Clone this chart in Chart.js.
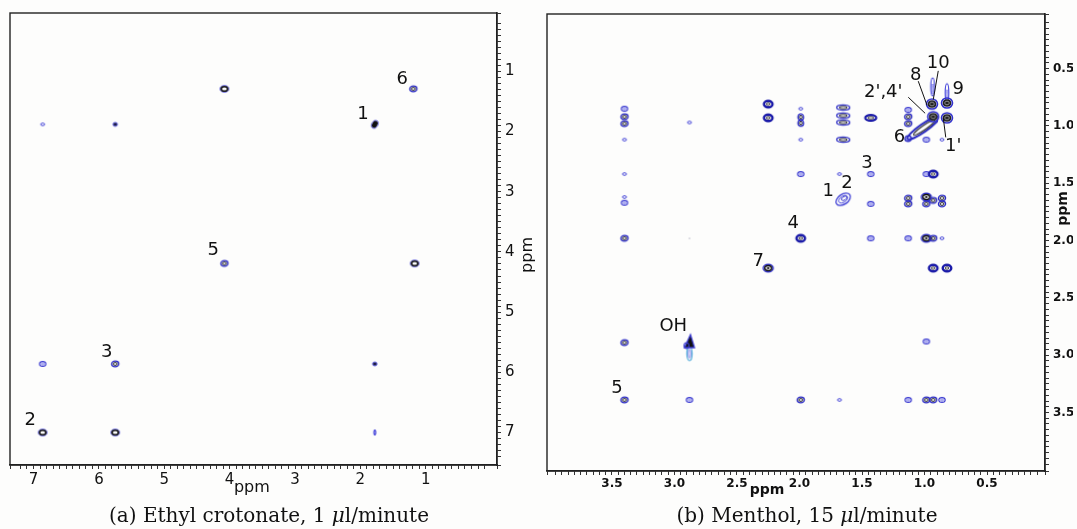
<!DOCTYPE html>
<html>
<head>
<meta charset="utf-8">
<script src="https://cdn.jsdelivr.net/npm/chart.js@4.4.1/dist/chart.umd.min.js"></script>
<style>
  body { margin: 0; background: #fdfdfc; width: 1077px; height: 529px; overflow: hidden; position: relative; }
  canvas { position: absolute; top: 0; }
  #c1 { left: 0; }
  #c2 { left: 540px; }
  .cap { position: absolute; top: 503px; font: 20px "DejaVu Serif"; color: #111; white-space: nowrap; transform: translateX(-50%); }
</style>
</head>
<body>
<canvas id="c1" width="540" height="529"></canvas>
<canvas id="c2" width="537" height="529"></canvas>
<div class="cap" style="left:269px">(a) Ethyl crotonate, 1 <i>μ</i>l/minute</div>
<div class="cap" style="left:807px">(b) Menthol, 15 <i>μ</i>l/minute</div>
<script>
// ---- data: (a) ethyl crotonate, peak positions in ppm
const crotonateX     = [4.08, 1.19, 1.78, 6.86, 5.75, 4.08, 1.17, 5.75, 6.86, 1.78, 6.86, 5.75, 1.78];
const crotonateY     = [1.29, 1.29, 1.88, 1.88, 1.88, 4.19, 4.19, 5.86, 5.86, 5.86, 7.00, 7.00, 7.00];
const crotonateLevel = ['ring', 'mid', 'blob', 'trace', 'dot', 'mid', 'ring', 'mid', 'weak', 'dot', 'ring', 'ring', 'tick'];
const crotonateLabelText = ['6', '1', '5', '3', '2'];
const crotonateLabelX    = [1.36, 1.96, 4.25, 5.88, 7.05];
const crotonateLabelY    = [1.13, 1.72, 3.98, 5.66, 6.80];
const crotonateTicks      = [1, 2, 3, 4, 5, 6, 7];
const crotonateTickLabels = ['1', '2', '3', '4', '5', '6', '7'];

// ---- data: (b) menthol
const mentholX = [
  3.40, 3.40, 3.40, 3.40, 3.40, 3.40, 3.40, 3.40, 3.40, 3.40,
  2.88, 2.88, 2.88, 2.88,
  2.25, 2.25, 2.25,
  1.99, 1.99, 1.99, 1.99, 1.99, 1.99,
  1.68, 1.68,
  1.65, 1.65, 1.65, 1.65, 1.65,
  1.43, 1.43, 1.43, 1.43,
  1.13, 1.13, 1.13, 1.13, 1.13, 1.13, 1.13,
  0.985, 0.985, 0.985, 0.985, 0.985, 0.985, 0.985,
  0.93, 0.93, 0.93, 0.93, 0.93,
  0.86, 0.86, 0.86, 0.86, 0.86,
  0.82,
  1.13, 0.935, 0.82,
  0.94, 0.93, 0.82, 0.82
];
const mentholY = [
  0.85, 0.92, 0.98, 1.12, 1.42, 1.62, 1.67, 1.98, 2.89, 3.39,
  0.97, 1.98, 2.89, 3.39,
  0.81, 0.93, 2.24,
  0.85, 0.95, 1.12, 1.42, 1.98, 3.39,
  1.42, 3.39,
  0.84, 0.91, 0.97, 1.12, 1.64,
  0.93, 1.42, 1.68, 1.98,
  0.86, 0.92, 0.98, 1.63, 1.68, 1.98, 3.39,
  1.12, 1.42, 1.62, 1.68, 1.98, 2.88, 3.39,
  1.42, 1.65, 1.98, 2.24, 3.39,
  1.12, 1.63, 1.68, 1.98, 3.39,
  2.24,
  1.11, 0.66, 0.71,
  0.81, 0.92, 0.80, 0.93
];
const mentholLevel = [
  'weak', 'mid', 'mid', 'trace', 'trace', 'trace', 'weak', 'mid', 'mid', 'mid',
  'trace', 'speck', 'oh', 'weak',
  'navy', 'navy', 'strong',
  'trace', 'tall', 'trace', 'weak', 'navy', 'mid',
  'trace', 'trace',
  'wide', 'wide', 'wide', 'wide', 'diag',
  'navywide', 'weak', 'weak', 'weak',
  'weak', 'mid', 'mid', 'mid', 'mid', 'weak', 'weak',
  'weak', 'weak', 'strong', 'mid', 'strong', 'weak', 'mid',
  'navy', 'mid', 'mid', 'navy', 'mid',
  'trace', 'mid', 'mid', 'trace', 'weak',
  'navy',
  'streak', 'spike', 'spike',
  'cluster', 'cluster', 'cluster', 'cluster'
];
const mentholLabelText = ['10', '8', '9', "2',4'", '6', "1'", '3', '2', '1', '4', '7', 'OH', '5'];
const mentholLabelX    = [0.89, 1.07, 0.73, 1.33, 1.20, 0.77, 1.46, 1.62, 1.77, 2.05, 2.33, 3.01, 3.46];
const mentholLabelY    = [0.45, 0.56, 0.68, 0.71, 1.10, 1.18, 1.33, 1.50, 1.57, 1.85, 2.18, 2.75, 3.29];
const mentholLeaderX1  = [1.05, 0.89, 1.13, 0.83];
const mentholLeaderY1  = [0.61, 0.52, 0.75, 1.10];
const mentholLeaderX2  = [0.98, 0.93, 0.995, 0.85];
const mentholLeaderY2  = [0.82, 0.77, 0.89, 0.93];
const mentholTicks      = [0.5, 1.0, 1.5, 2.0, 2.5, 3.0, 3.5];
const mentholTickLabels = ['0.5', '1.0', '1.5', '2.0', '2.5', '3.0', '3.5'];

// ---- contour-like marks, used as point styles
function ell(g, x, y, rx, ry, color, lw, rot) {
  g.beginPath();
  g.ellipse(x, y, rx, ry, rot || 0, 0, 2 * Math.PI);
  g.strokeStyle = color;
  g.lineWidth = lw;
  g.stroke();
}
function fillEll(g, x, y, rx, ry, color, rot) {
  g.beginPath();
  g.ellipse(x, y, rx, ry, rot || 0, 0, 2 * Math.PI);
  g.fillStyle = color;
  g.fill();
}
function shape(w, h, draw) {
  const c = document.createElement('canvas');
  c.width = w; c.height = h;
  const g = c.getContext('2d');
  g.translate(w / 2, h / 2);
  draw(g);
  return c;
}

const shapes = {
  speck: shape(6, 6, g => fillEll(g, 0, 0, 0.8, 0.6, '#9a9ab0')),
  trace: shape(10, 8, g => ell(g, 0, 0, 2, 1.3, '#4848d8', 1)),
  tick: shape(8, 10, g => ell(g, 0, 0, 0.9, 2.4, '#3a3ad8', 1.2)),
  dot: shape(10, 10, g => { fillEll(g, 0, 0, 2, 1.7, '#1a1a40'); ell(g, 0, 0, 2.3, 2, '#4444dd', 0.8); }),
  weak: shape(12, 10, g => { ell(g, 0, 0, 3.2, 2.4, '#3838d0', 1.1); ell(g, 0, 0, 1.5, 1, '#7070e4', 0.8); }),
  mid: shape(12, 10, g => { ell(g, 0, 0, 3.6, 2.8, '#2a2ac4', 1.3); ell(g, 0, 0, 2, 1.4, '#222', 1); }),
  ring: shape(14, 12, g => { ell(g, 0, 0, 4.2, 3.2, '#3b3bd8', 1); ell(g, 0, 0, 3.2, 2.3, '#111', 1.6); }),
  blob: shape(14, 14, g => { fillEll(g, 0, 0, 2.6, 3.8, '#111', 0.5); ell(g, 0, 0, 3.1, 4.3, '#4040d0', 0.8, 0.5); }),
  strong: shape(14, 12, g => { ell(g, 0, 0, 5, 3.8, '#3030cc', 1.4); ell(g, 0, 0, 3.4, 2.5, '#111', 1.4); fillEll(g, 0, 0, 1.4, 1, '#222'); }),
  navy: shape(14, 12, g => { ell(g, 0, 0, 4.3, 3.2, '#1a1aa8', 2.4); ell(g, 0, 0, 1.8, 1.2, '#444', 1); }),
  navywide: shape(16, 10, g => { ell(g, 0, 0, 5.5, 2.8, '#1a1aa8', 2.2); ell(g, 0, 0, 3, 1.2, '#444', 1); }),
  wide: shape(18, 10, g => { ell(g, 0, 0, 6.5, 2.6, '#2f2fc6', 1.4); ell(g, 0, 0, 4, 1.2, '#333', 1); }),
  tall: shape(10, 18, g => {
    ell(g, 0, -3, 2.8, 3.2, '#2a2ac4', 1.3); ell(g, 0, 3, 2.8, 3.2, '#2a2ac4', 1.3);
    ell(g, 0, -3, 1.3, 1.7, '#333', 1); ell(g, 0, 3, 1.3, 1.7, '#333', 1);
  }),
  diag: shape(24, 20, g => {
    ell(g, 0, 0, 8, 5, '#3c3cd4', 1.3, -0.6); ell(g, 0, 0, 5, 3, '#4a4adc', 1, -0.6);
    ell(g, 1, -1, 3, 1.8, '#2a2ac4', 1, -0.6);
  }),
  streak: shape(60, 50, g => {
    ell(g, 15, -10.5, 19, 4, '#2626c0', 2, -0.61);
    ell(g, 16, -11, 13, 2.2, '#333', 1.2, -0.61);
    ell(g, 0, 0, 3.2, 2.8, '#2626c0', 1.4);
  }),
  spike: shape(10, 26, g => { ell(g, 0, 0, 1.8, 9, '#4a4adc', 1.2); ell(g, 0, 2, 0.8, 5, '#7878e6', 0.8); }),
  cluster: shape(16, 16, g => {
    ell(g, 0, 0, 5.5, 5, '#3030cc', 1.6); fillEll(g, 0, 0, 4.3, 3.8, '#222');
    ell(g, 0, 0, 2.3, 1.8, '#888', 1);
  }),
  oh: shape(20, 40, g => {
    ell(g, 0, 11, 2.6, 7, '#4aa8d8', 1.2); ell(g, 0, 11, 1.2, 4.5, '#6060e0', 0.8);
    g.beginPath(); g.moveTo(1, -8); g.lineTo(-5, 5); g.lineTo(5, 5); g.closePath();
    g.fillStyle = '#111'; g.fill(); g.strokeStyle = '#3a3ad0'; g.lineWidth = 1.3; g.stroke();
    ell(g, -3, 3, 2.5, 3, '#3a3ad0', 1.2);
  })
};

// ---- annotations, frame and ppm titles
function notesPlugin(p) {
  return {
    id: 'notes',
    afterDatasetsDraw(chart) {
      const { ctx, chartArea: a, scales: { x, y } } = chart;
      ctx.save();
      ctx.strokeStyle = '#222';
      ctx.lineWidth = 1.4;
      ctx.strokeRect(a.left, a.top, a.right - a.left, a.bottom - a.top);

      ctx.lineWidth = 1;
      ctx.strokeStyle = '#111';
      (p.lx1 || []).forEach((v, i) => {
        ctx.beginPath();
        ctx.moveTo(x.getPixelForValue(v), y.getPixelForValue(p.ly1[i]));
        ctx.lineTo(x.getPixelForValue(p.lx2[i]), y.getPixelForValue(p.ly2[i]));
        ctx.stroke();
      });

      ctx.fillStyle = '#111';
      ctx.textAlign = 'center';
      ctx.textBaseline = 'middle';
      ctx.font = '18px "DejaVu Sans"';
      p.text.forEach((t, i) => ctx.fillText(t, x.getPixelForValue(p.tx[i]), y.getPixelForValue(p.ty[i])));

      ctx.font = p.titleFont;
      ctx.fillText('ppm', x.getPixelForValue(p.xTitleAt), a.bottom + p.xTitleGap);
      ctx.translate(a.right + p.yTitleGap, y.getPixelForValue(p.yTitleAt));
      ctx.rotate(-Math.PI / 2);
      ctx.fillText('ppm', 0, 0);
      ctx.restore();
    }
  };
}

function tickLabel(values, labels) {
  return v => {
    const i = values.findIndex(t => Math.abs(t - v) < 1e-6);
    return i >= 0 ? labels[i] : '';
  };
}

function makeChart(id, xs, ys, levels, o) {
  return new Chart(document.getElementById(id), {
    type: 'scatter',
    data: {
      datasets: [{
        data: xs.map((v, i) => ({ x: v, y: ys[i] })),
        pointStyle: c => shapes[levels[c.dataIndex]],
        pointRadius: 3
      }]
    },
    options: {
      responsive: false,
      animation: false,
      events: [],
      layout: { padding: o.padding },
      plugins: { legend: { display: false }, tooltip: { enabled: false } },
      scales: {
        x: {
          type: 'linear', min: o.xMin, max: o.xMax, reverse: true, position: 'bottom',
          afterFit: s => { s.height = 20; },
          grid: { drawOnChartArea: false, drawTicks: true, tickLength: 4, color: '#333' },
          border: { color: '#222', width: 1.4 },
          ticks: { stepSize: o.step, autoSkip: false, maxRotation: 0, padding: 2, color: '#111', font: o.tickFont,
                   callback: tickLabel(o.ticks, o.tickLabels) }
        },
        y: {
          type: 'linear', min: o.yMin, max: o.yMax, reverse: true, position: 'right',
          afterFit: s => { s.width = o.yWidth; },
          grid: { drawOnChartArea: false, drawTicks: true, tickLength: 4, color: '#333' },
          border: { color: '#222', width: 1.4 },
          ticks: { stepSize: o.step, autoSkip: false, padding: 4, color: '#111', font: o.tickFont,
                   callback: tickLabel(o.ticks, o.tickLabels) }
        }
      }
    },
    plugins: [notesPlugin(o.notes)]
  });
}

makeChart('c1', crotonateX, crotonateY, crotonateLevel, {
  xMin: -0.09, xMax: 7.36, yMin: 0.03, yMax: 7.54, step: 0.1,
  ticks: crotonateTicks, tickLabels: crotonateTickLabels,
  tickFont: { family: 'DejaVu Sans', size: 15 },
  padding: { left: 10, top: 13, right: 13, bottom: 44 }, yWidth: 30,
  notes: { text: crotonateLabelText, tx: crotonateLabelX, ty: crotonateLabelY,
           titleFont: '16px "DejaVu Sans"', xTitleAt: 3.66, xTitleGap: 23, yTitleAt: 4.05, yTitleGap: 31 }
});

makeChart('c2', mentholX, mentholY, mentholLevel, {
  xMin: 0.036, xMax: 4.02, yMin: 0.024, yMax: 4.01, step: 0.05,
  ticks: mentholTicks, tickLabels: mentholTickLabels,
  tickFont: { family: 'DejaVu Sans', size: 12, weight: 'bold' },
  padding: { left: 7, top: 14, right: 4, bottom: 38 }, yWidth: 28,
  notes: { text: mentholLabelText, tx: mentholLabelX, ty: mentholLabelY,
           lx1: mentholLeaderX1, ly1: mentholLeaderY1, lx2: mentholLeaderX2, ly2: mentholLeaderY2,
           titleFont: 'bold 14px "DejaVu Sans"', xTitleAt: 2.26, xTitleGap: 19, yTitleAt: 1.72, yTitleGap: 18 }
});
</script>
</body>
</html>
